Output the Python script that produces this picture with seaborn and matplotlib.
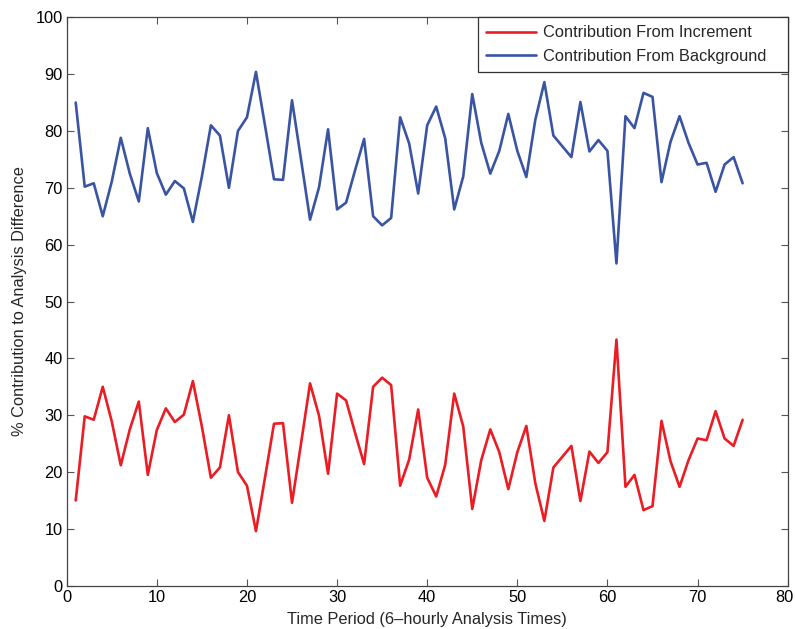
import numpy as np
import pandas as pd
import matplotlib
matplotlib.use("Agg")
import matplotlib.pyplot as plt
import matplotlib.transforms as mtransforms
import seaborn as sns

# Analysis time index (6-hourly)
time_period = list(range(1, 76))

# Percent contribution of the background to the analysis difference
background = [
    85.0, 70.2, 70.8, 65.0, 71.1, 78.8, 72.5, 67.6, 80.5, 72.6,
    68.8, 71.2, 69.9, 64.0, 72.0, 81.0, 79.2, 70.0, 80.0, 82.4,
    90.4, 81.0, 71.5, 71.4, 85.4, 75.0, 64.4, 70.1, 80.3, 66.2,
    67.4, 73.1, 78.6, 65.0, 63.4, 64.7, 82.4, 77.8, 69.0, 81.0,
    84.3, 78.7, 66.2, 72.0, 86.5, 77.9, 72.5, 76.5, 83.0, 76.5,
    71.9, 82.0, 88.6, 79.2, 77.3, 75.4, 85.1, 76.4, 78.4, 76.5,
    56.7, 82.6, 80.5, 86.7, 86.0, 71.0, 78.1, 82.6, 77.9, 74.1,
    74.4, 69.3, 74.1, 75.4, 70.8,
]

# Percent contribution of the increment to the analysis difference
increment = [
    15.0, 29.8, 29.2, 35.0, 28.9, 21.2, 27.5, 32.4, 19.5, 27.4,
    31.2, 28.8, 30.1, 36.0, 28.0, 19.0, 20.8, 30.0, 20.0, 17.6,
    9.6, 19.0, 28.5, 28.6, 14.6, 25.0, 35.6, 29.9, 19.7, 33.8,
    32.6, 26.9, 21.4, 35.0, 36.6, 35.3, 17.6, 22.2, 31.0, 19.0,
    15.7, 21.3, 33.8, 28.0, 13.5, 22.1, 27.5, 23.5, 17.0, 23.5,
    28.1, 18.0, 11.4, 20.8, 22.7, 24.6, 14.9, 23.6, 21.6, 23.5,
    43.3, 17.4, 19.5, 13.3, 14.0, 29.0, 21.9, 17.4, 22.1, 25.9,
    25.6, 30.7, 25.9, 24.6, 29.2,
]

series_labels = ["Contribution From Increment", "Contribution From Background"]
series_colors = ["#ec1c24", "#3a54a4"]

x_ticks = [0, 10, 20, 30, 40, 50, 60, 70, 80]
y_ticks = [0, 10, 20, 30, 40, 50, 60, 70, 80, 90, 100]

df = pd.concat([
    pd.DataFrame({"t": time_period, "pct": increment, "series": series_labels[0]}),
    pd.DataFrame({"t": time_period, "pct": background, "series": series_labels[1]}),
], ignore_index=True)

sns.set_theme(style="white")
plt.rcParams["font.family"] = ["Liberation Sans", "DejaVu Sans"]

FS = 11.8

fig = plt.figure(figsize=(7.95, 6.29), dpi=100)
ax = fig.add_axes([0.0839, 0.0688, 0.9069, 0.9037])

sns.lineplot(data=df, x="t", y="pct", hue="series", hue_order=series_labels,
             palette=series_colors, linewidth=1.9, ax=ax, legend=True)

ax.set_xlim(0, 80)
ax.set_ylim(0, 100)
ax.set_xticks(x_ticks)
ax.set_yticks(y_ticks)
ax.tick_params(axis="both", which="both", direction="in", length=5, width=0.8,
               color="#555555", labelsize=FS, labelcolor="black",
               top=True, right=True, bottom=True, left=True, pad=3)
for s in ax.spines.values():
    s.set_visible(True)
    s.set_color("#444444")
    s.set_linewidth(0.9)

# Nudge the last x tick label so it stays inside the figure
fig.canvas.draw()
last_label = ax.get_xticklabels()[-1]
last_label.set_transform(last_label.get_transform() +
                         mtransforms.ScaledTranslation(-3 / 100, 0, fig.dpi_scale_trans))

ax.set_xlabel("Time Period (6\u2013hourly Analysis Times)", fontsize=FS, labelpad=5)
ax.set_ylabel("% Contribution to Analysis Difference", fontsize=FS, labelpad=6)

# Legend box spans from x≈57% of the axes to the right edge
leg = ax.legend(loc="upper left", bbox_to_anchor=(0.5705, 0.0, 0.4295, 1.0),
                mode="expand", fontsize=FS, frameon=True, fancybox=False,
                edgecolor="#333333", framealpha=1, borderaxespad=0.0,
                handlelength=3.05, handletextpad=0.4, borderpad=0.5,
                labelspacing=0.52)
leg.get_frame().set_linewidth(0.9)
leg.set_title(None)

fig.savefig("out.png", dpi=100)
